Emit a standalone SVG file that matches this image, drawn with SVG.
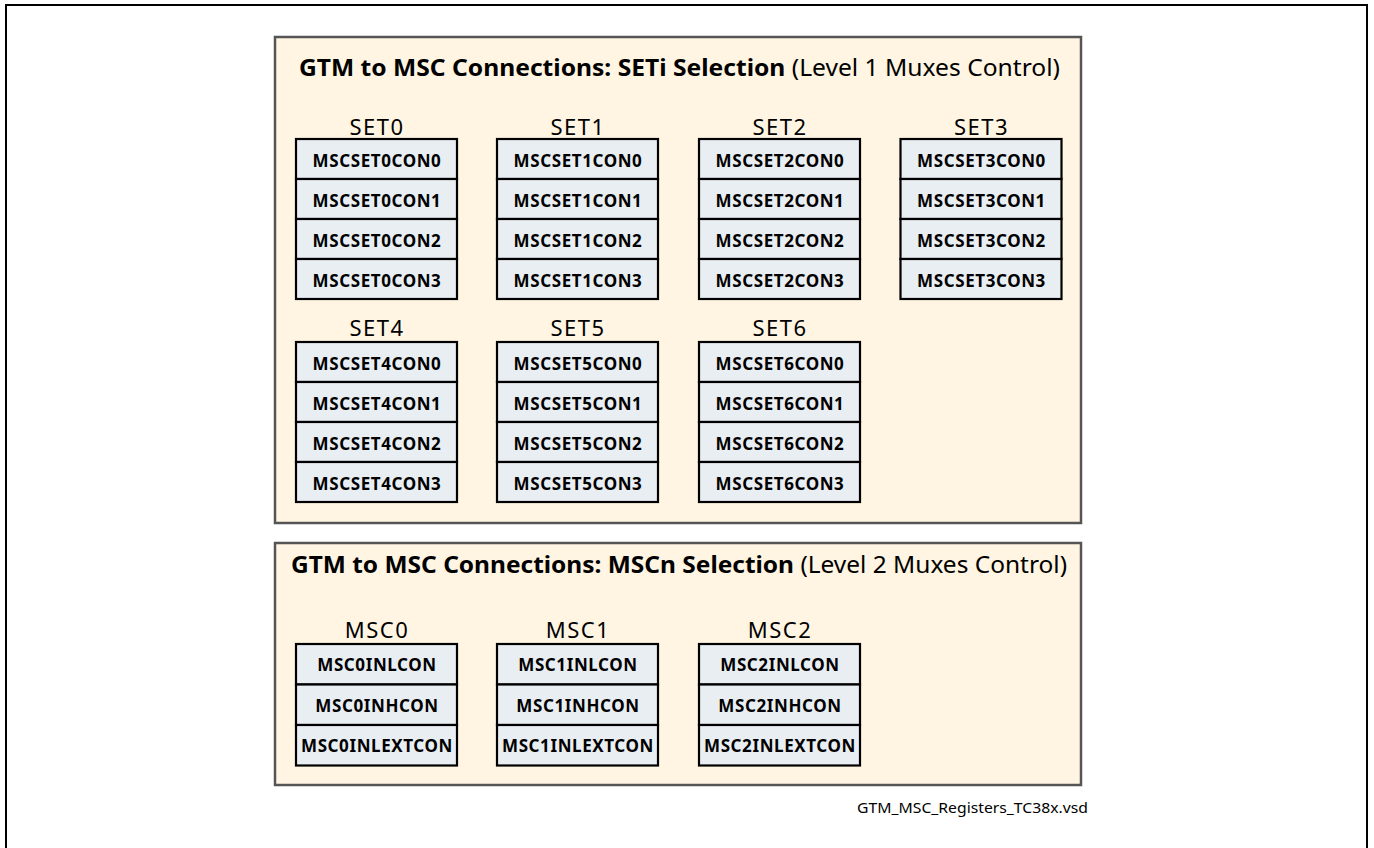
<svg xmlns="http://www.w3.org/2000/svg" width="1374" height="848" viewBox="0 0 1374 848">
<style>
.frame{fill:#ffffff;stroke:#000;stroke-width:2}
.panel{fill:#fff5e2;stroke:#555;stroke-width:2.5}
.cell{fill:#e9eef3;stroke:#000;stroke-width:2.2}
.title{font-family:"Noto Sans","Open Sans",sans-serif;font-size:24px;fill:#000}
.b{font-weight:bold}
.grp{font-family:"Noto Sans","Open Sans",sans-serif;font-size:22px;letter-spacing:1.5px;fill:#000;text-anchor:middle}
.reg{font-family:"Noto Sans","Open Sans",sans-serif;font-size:17px;font-weight:bold;letter-spacing:0.6px;fill:#000;text-anchor:middle}
.fn{font-family:"Noto Sans","Open Sans",sans-serif;font-size:15px;fill:#000}
</style>
<rect class="frame" x="6" y="5" width="1361" height="860"/>
<g id="panel-seti">
<rect class="panel" x="275" y="37" width="806" height="486"/>
<text class="title" x="299" y="76" textLength="761" lengthAdjust="spacingAndGlyphs"><tspan class="b">GTM to MSC Connections:  SETi Selection</tspan> (Level 1 Muxes Control)</text>
</g>
<g id="panel-mscn">
<rect class="panel" x="275" y="543" width="806" height="242"/>
<text class="title" x="291" y="573" textLength="776" lengthAdjust="spacingAndGlyphs"><tspan class="b">GTM to MSC Connections:  MSCn Selection</tspan> (Level 2 Muxes Control)</text>
</g>
<g id="set0">
<text class="grp" x="377" y="135">SET0</text>
<rect class="cell" x="296" y="139" width="161" height="40"/><text class="reg" x="377" y="166.5">MSCSET0CON0</text>
<rect class="cell" x="296" y="179" width="161" height="40"/><text class="reg" x="377" y="206.5">MSCSET0CON1</text>
<rect class="cell" x="296" y="219" width="161" height="40"/><text class="reg" x="377" y="246.5">MSCSET0CON2</text>
<rect class="cell" x="296" y="259" width="161" height="40"/><text class="reg" x="377" y="286.5">MSCSET0CON3</text>
</g>
<g id="set1">
<text class="grp" x="578" y="135">SET1</text>
<rect class="cell" x="497" y="139" width="161" height="40"/><text class="reg" x="578" y="166.5">MSCSET1CON0</text>
<rect class="cell" x="497" y="179" width="161" height="40"/><text class="reg" x="578" y="206.5">MSCSET1CON1</text>
<rect class="cell" x="497" y="219" width="161" height="40"/><text class="reg" x="578" y="246.5">MSCSET1CON2</text>
<rect class="cell" x="497" y="259" width="161" height="40"/><text class="reg" x="578" y="286.5">MSCSET1CON3</text>
</g>
<g id="set2">
<text class="grp" x="780" y="135">SET2</text>
<rect class="cell" x="699" y="139" width="161" height="40"/><text class="reg" x="780" y="166.5">MSCSET2CON0</text>
<rect class="cell" x="699" y="179" width="161" height="40"/><text class="reg" x="780" y="206.5">MSCSET2CON1</text>
<rect class="cell" x="699" y="219" width="161" height="40"/><text class="reg" x="780" y="246.5">MSCSET2CON2</text>
<rect class="cell" x="699" y="259" width="161" height="40"/><text class="reg" x="780" y="286.5">MSCSET2CON3</text>
</g>
<g id="set3">
<text class="grp" x="981.5" y="135">SET3</text>
<rect class="cell" x="900.5" y="139" width="161" height="40"/><text class="reg" x="981.5" y="166.5">MSCSET3CON0</text>
<rect class="cell" x="900.5" y="179" width="161" height="40"/><text class="reg" x="981.5" y="206.5">MSCSET3CON1</text>
<rect class="cell" x="900.5" y="219" width="161" height="40"/><text class="reg" x="981.5" y="246.5">MSCSET3CON2</text>
<rect class="cell" x="900.5" y="259" width="161" height="40"/><text class="reg" x="981.5" y="286.5">MSCSET3CON3</text>
</g>
<g id="set4">
<text class="grp" x="377" y="336">SET4</text>
<rect class="cell" x="296" y="342" width="161" height="40"/><text class="reg" x="377" y="369.5">MSCSET4CON0</text>
<rect class="cell" x="296" y="382" width="161" height="40"/><text class="reg" x="377" y="409.5">MSCSET4CON1</text>
<rect class="cell" x="296" y="422" width="161" height="40"/><text class="reg" x="377" y="449.5">MSCSET4CON2</text>
<rect class="cell" x="296" y="462" width="161" height="40"/><text class="reg" x="377" y="489.5">MSCSET4CON3</text>
</g>
<g id="set5">
<text class="grp" x="578" y="336">SET5</text>
<rect class="cell" x="497" y="342" width="161" height="40"/><text class="reg" x="578" y="369.5">MSCSET5CON0</text>
<rect class="cell" x="497" y="382" width="161" height="40"/><text class="reg" x="578" y="409.5">MSCSET5CON1</text>
<rect class="cell" x="497" y="422" width="161" height="40"/><text class="reg" x="578" y="449.5">MSCSET5CON2</text>
<rect class="cell" x="497" y="462" width="161" height="40"/><text class="reg" x="578" y="489.5">MSCSET5CON3</text>
</g>
<g id="set6">
<text class="grp" x="780" y="336">SET6</text>
<rect class="cell" x="699" y="342" width="161" height="40"/><text class="reg" x="780" y="369.5">MSCSET6CON0</text>
<rect class="cell" x="699" y="382" width="161" height="40"/><text class="reg" x="780" y="409.5">MSCSET6CON1</text>
<rect class="cell" x="699" y="422" width="161" height="40"/><text class="reg" x="780" y="449.5">MSCSET6CON2</text>
<rect class="cell" x="699" y="462" width="161" height="40"/><text class="reg" x="780" y="489.5">MSCSET6CON3</text>
</g>
<g id="msc0">
<text class="grp" x="377" y="638">MSC0</text>
<rect class="cell" x="296" y="644" width="161" height="40.5"/><text class="reg" x="377" y="671">MSC0INLCON</text>
<rect class="cell" x="296" y="684.5" width="161" height="40.5"/><text class="reg" x="377" y="711.5">MSC0INHCON</text>
<rect class="cell" x="296" y="725" width="161" height="40.5"/><text class="reg" x="377" y="752" textLength="152" lengthAdjust="spacingAndGlyphs">MSC0INLEXTCON</text>
</g>
<g id="msc1">
<text class="grp" x="578" y="638">MSC1</text>
<rect class="cell" x="497" y="644" width="161" height="40.5"/><text class="reg" x="578" y="671">MSC1INLCON</text>
<rect class="cell" x="497" y="684.5" width="161" height="40.5"/><text class="reg" x="578" y="711.5">MSC1INHCON</text>
<rect class="cell" x="497" y="725" width="161" height="40.5"/><text class="reg" x="578" y="752" textLength="152" lengthAdjust="spacingAndGlyphs">MSC1INLEXTCON</text>
</g>
<g id="msc2">
<text class="grp" x="780" y="638">MSC2</text>
<rect class="cell" x="699" y="644" width="161" height="40.5"/><text class="reg" x="780" y="671">MSC2INLCON</text>
<rect class="cell" x="699" y="684.5" width="161" height="40.5"/><text class="reg" x="780" y="711.5">MSC2INHCON</text>
<rect class="cell" x="699" y="725" width="161" height="40.5"/><text class="reg" x="780" y="752" textLength="152" lengthAdjust="spacingAndGlyphs">MSC2INLEXTCON</text>
</g>
<g id="connectors"/>
<text class="fn" x="857" y="813" textLength="231" lengthAdjust="spacingAndGlyphs">GTM_MSC_Registers_TC38x.vsd</text>
</svg>
